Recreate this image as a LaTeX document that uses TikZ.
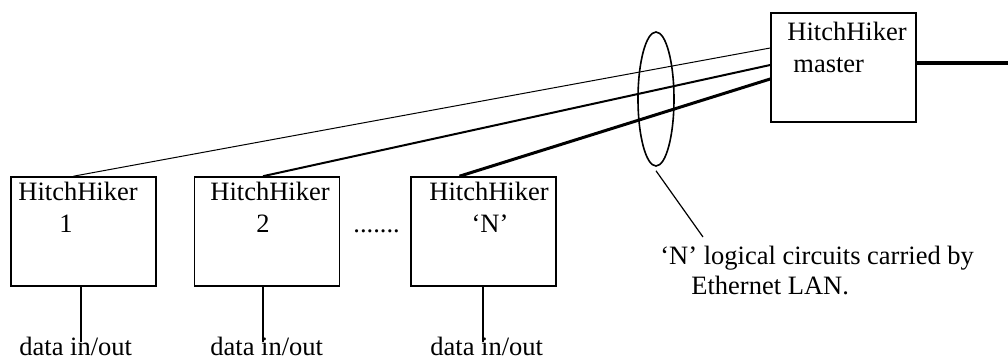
\documentclass[tikz,border=0pt]{standalone}
\usepackage{fontspec}
\setmainfont{Liberation Serif}
\usetikzlibrary{shapes.geometric}
\begin{document}
\begin{tikzpicture}[x=0.5pt,y=-0.5pt,font=\fontsize{13.25}{16}\selectfont]
\tikzset{hhbox/.style={draw=black, line width=0.8pt, minimum width=72.5pt, minimum height=54.5pt, inner sep=0pt},
  txt/.style={anchor=base west, inner sep=0pt},
  txtc/.style={anchor=base, inner sep=0pt}}
\useasboundingbox (0,0) rectangle (1008,363);
% boxes
\node [hhbox] (h1) at (83.5,231.5) {};
\node [hhbox] (h2) at (267,231.5) {};
\node [hhbox] (hn) at (483.5,231.5) {};
\node [hhbox] (m) at (843.5,67.5) {};
% box texts
\node [txt] (h1a) at (18,201) {HitchHiker};
\node [txtc] (h1b) at (66,233) {1};
\node [txt] (h2a) at (210,201) {HitchHiker};
\node [txtc] (h2b) at (263,233) {2};
\node [txt] (hna) at (429,201) {HitchHiker};
\node [txtc] (hnb) at (490,233) {‘N’};
\node [txt] (ma) at (787,41) {HitchHiker};
\node [txt] (mb) at (793,73) {master};
\node [txt] (dots) at (353,233) {.......};
% data in/out
\node [txt] (d1) at (19,356) {data in/out};
\node [txt] (d2) at (210,356) {data in/out};
\node [txt] (dn) at (430,356) {data in/out};
\coordinate (d1e) at (81,342);
\coordinate (d2e) at (263,342);
\coordinate (dne) at (483,342);
\draw [line width=0.8pt] (d1e |- h1.south) -- (d1e);
\draw [line width=0.8pt] (d2e |- h2.south) -- (d2e);
\draw [line width=0.8pt] (dne |- hn.south) -- (dne);
% logical circuits
\draw [line width=0.5pt] ([xshift=-5pt]h1.north) -- ([yshift=9.75pt]m.west);
\draw [line width=1pt] ([xshift=-2pt]h2.north) -- ([yshift=1.25pt]m.west);
\draw [line width=1.5pt] ([xshift=-12pt]hn.north) -- ([yshift=-5.75pt]m.west);
\node [ellipse, draw=black, line width=0.8pt, minimum width=18pt, minimum height=67pt, inner sep=0pt] (lan) at (656,99) {};
\coordinate (lanend) at (703,237);
\draw [line width=0.6pt] ([yshift=-2pt]lan.south) -- (lanend);
\node [txt] (lbl1) at (660,265) {‘N’ logical circuits carried by};
\node [txt] (lbl2) at (691,295) {Ethernet LAN.};
% uplink
\coordinate (out) at (1008,63);
\draw [line width=2pt] ([yshift=2.25pt]m.east) -- (out);
\end{tikzpicture}
\end{document}
